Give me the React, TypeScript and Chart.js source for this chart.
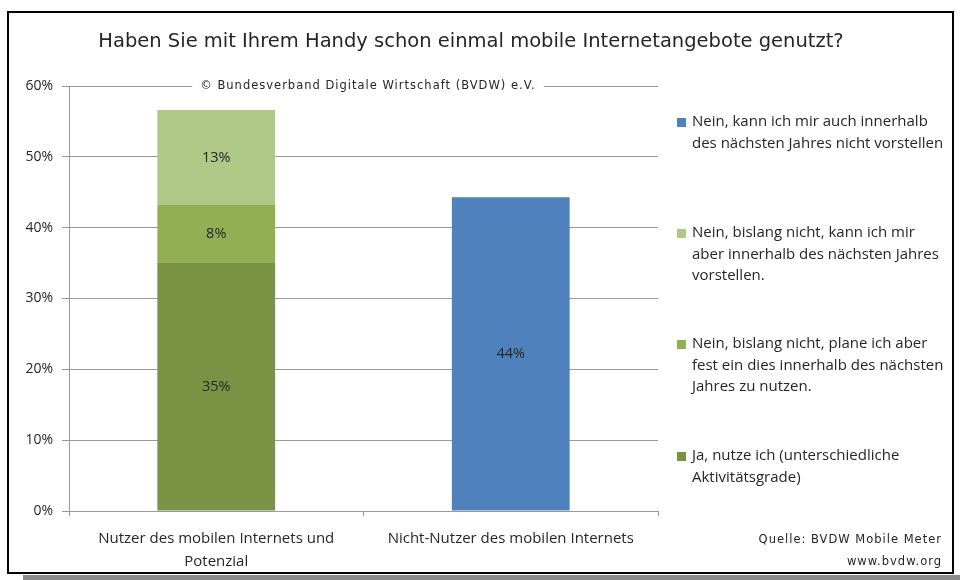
import React, { useEffect, useRef } from "react";
import { Chart, registerables } from "chart.js";

Chart.register(...registerables);

const titleText = "Haben Sie mit Ihrem Handy schon einmal mobile Internetangebote genutzt?";
const copyrightText = "© Bundesverband Digitale Wirtschaft (BVDW) e.V.";
const sourceLines = ["Quelle: BVDW Mobile Meter", "www.bvdw.org"];

const categories = [
  ["Nutzer des mobilen Internets und", "Potenzial"],
  ["Nicht-Nutzer des mobilen Internets"],
];

const yTicks = [0, 10, 20, 30, 40, 50, 60];

const jaNutzeIch = [35.0, null];
const planeIchAber = [8.2, null];
const kannIchMirVorstellen = [13.4, null];
const nichtVorstellen = [null, 44.3];

const legendJa = ["Ja, nutze ich (unterschiedliche", "Aktivitätsgrade)"];
const legendPlane = ["Nein, bislang nicht, plane ich aber", "fest ein dies innerhalb des nächsten", "Jahres zu nutzen."];
const legendKann = ["Nein, bislang nicht, kann ich mir", "aber innerhalb des nächsten Jahres", "vorstellen."];
const legendNicht = ["Nein, kann ich mir auch innerhalb", "des nächsten Jahres nicht vorstellen"];

const colDark = "#7A9244";
const colMid = "#93AF54";
const colLight = "#AFC787";
const colBlue = "#4F81BD";

const TEXT = "#262626";
const GRID = "#9a9a9a";
const FONT = "'Open Sans', sans-serif";
const TFONT = "'DejaVu Sans', sans-serif";

const decorPlugin = {
  id: "decor",
  beforeDraw(chart: any) {
    const ctx = chart.ctx;
    ctx.save();
    ctx.fillStyle = "#ffffff";
    ctx.fillRect(0, 0, chart.width, chart.height);
    ctx.fillStyle = "#8a8a8a";
    ctx.fillRect(23, 575, chart.width - 23, 5);
    ctx.strokeStyle = "#000000";
    ctx.lineWidth = 2;
    ctx.strokeRect(8, 12, 945, 561);
    ctx.restore();
  },
  afterDraw(chart: any) {
    const ctx = chart.ctx;
    ctx.save();
    // title
    ctx.fillStyle = TEXT;
    ctx.font = `19.5px ${TFONT}`;
    ctx.textAlign = "center";
    ctx.textBaseline = "middle";
    ctx.fillText(titleText, 471, 42);

    // copyright over 60% gridline
    const y60 = chart.scales.y.getPixelForValue(60);
    ctx.font = `11.5px ${TFONT}`;
    (ctx as any).letterSpacing = "1px";
    const w = ctx.measureText(copyrightText).width;
    const cx = 368;
    ctx.fillStyle = "#ffffff";
    ctx.fillRect(cx - w / 2 - 8, y60 - 7, w + 16, 14);
    ctx.fillStyle = TEXT;
    ctx.fillText(copyrightText, cx, y60);

    // source
    ctx.textAlign = "right";
    ctx.fillText(sourceLines[0], 942, 540);
    ctx.fillText(sourceLines[1], 942, 562);
    (ctx as any).letterSpacing = "0px";

    // data labels
    ctx.textAlign = "center";
    ctx.font = `14.5px ${FONT}`;
    chart.data.datasets.forEach((ds: any, i: number) => {
      const meta = chart.getDatasetMeta(i);
      meta.data.forEach((el: any, j: number) => {
        const v = ds.data[j];
        if (v === null || v === undefined) return;
        ctx.fillText(Math.round(v) + "%", el.x, (el.y + el.base) / 2);
      });
    });

    // legend
    const items = [
      { color: colBlue, lines: legendNicht, y: 122 },
      { color: colLight, lines: legendKann, y: 233 },
      { color: colMid, lines: legendPlane, y: 344 },
      { color: colDark, lines: legendJa, y: 456 },
    ];
    ctx.textAlign = "left";
    ctx.font = `15px ${FONT}`;
    items.forEach((it) => {
      ctx.fillStyle = it.color;
      ctx.fillRect(677, it.y - 4, 9, 9);
      ctx.fillStyle = TEXT;
      it.lines.forEach((ln, k) => {
        ctx.fillText(ln, 692, it.y + k * 21.5);
      });
    });
    ctx.restore();
  },
};

export default function App() {
  const ref = useRef<HTMLCanvasElement>(null);
  useEffect(() => {
    if (!ref.current) return;
    const chart = new Chart(ref.current, {
      type: "bar",
      data: {
        labels: categories,
        datasets: [
          { label: legendJa.join(" "), data: jaNutzeIch, backgroundColor: colDark },
          { label: legendPlane.join(" "), data: planeIchAber, backgroundColor: colMid },
          { label: legendKann.join(" "), data: kannIchMirVorstellen, backgroundColor: colLight },
          { label: legendNicht.join(" "), data: nichtVorstellen, backgroundColor: colBlue },
        ],
      },
      options: {
        responsive: false,
        animation: false,
        devicePixelRatio: 1,
        layout: { padding: { left: 0, top: 86, right: 302, bottom: 0 } },
        datasets: { bar: { barPercentage: 0.4, categoryPercentage: 1 } },
        plugins: { legend: { display: false }, title: { display: false }, tooltip: { enabled: false } },
        scales: {
          x: {
            stacked: true,
            afterFit: (s: any) => { s.height = 69; },
            grid: { drawOnChartArea: false, drawTicks: true, tickLength: 5, color: GRID, offset: true },
            border: { color: GRID, width: 1 },
            ticks: {
              color: TEXT,
              font: { family: FONT, size: 15, lineHeight: 1.53 },
              padding: 11,
              maxRotation: 0,
              autoSkip: false,
            },
          },
          y: {
            stacked: true,
            min: 0,
            max: 60,
            afterFit: (s: any) => { s.width = 69; },
            afterBuildTicks: (s: any) => { s.ticks = yTicks.map((v) => ({ value: v })); },
            grid: { color: GRID, tickLength: 7, drawTicks: true },
            border: { color: GRID, width: 1 },
            ticks: {
              color: TEXT,
              font: { family: FONT, size: 14 },
              padding: 9,
              callback: (v: any) => v + "%",
            },
          },
        },
      },
      plugins: [decorPlugin],
    });
    return () => chart.destroy();
  }, []);
  return (
    <canvas
      ref={ref}
      width={960}
      height={580}
      style={{ position: "absolute", left: 0, top: 0, width: 960, height: 580 }}
    />
  );
}
